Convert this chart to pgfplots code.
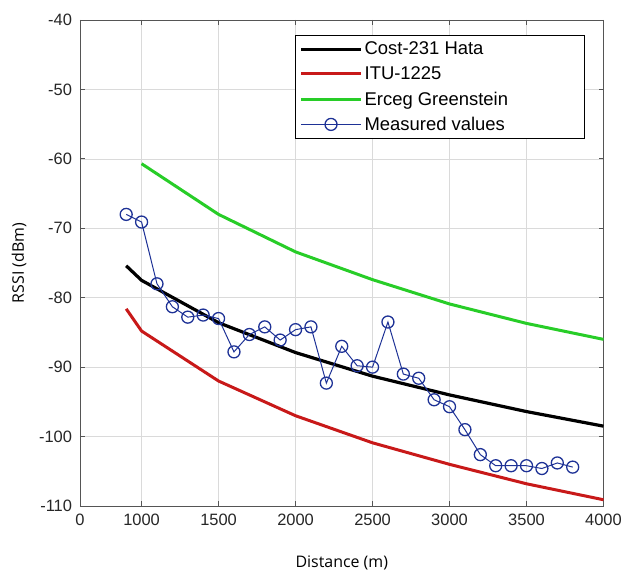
\documentclass[border=0pt]{standalone}
\usepackage{fontspec}
\setmainfont{Liberation Sans}
\newfontfamily\labelfont{Open Sans}
\usepackage{pgfplots}
\pgfplotsset{compat=1.18}
\definecolor{hred}{RGB}{200,25,25}
\definecolor{hgreen}{RGB}{40,205,40}
\definecolor{mblue}{RGB}{30,50,150}
\definecolor{gridc}{RGB}{218,218,218}
\definecolor{axc}{RGB}{85,85,85}
\newcommand{\lgd}[1]{\makebox[214bp][l]{#1}}
\begin{document}
\begin{tikzpicture}
\begin{axis}[
  scale only axis,
  width=523.5bp, height=486bp,
  xmin=600, xmax=4000, ymin=-110, ymax=-40,
  xtick={600,1000,1500,2000,2500,3000,3500,4000},
  xticklabels={0,1000,1500,2000,2500,3000,3500,4000},
  ytick={-110,-100,-90,-80,-70,-60,-50,-40},
  /pgf/number format/assume math mode=true,
  tick label style={font=\fontsize{16.5}{19}\selectfont, text=black!85},
  xticklabel style={yshift=-5bp},
  yticklabel style={xshift=-4.5bp},
  grid=major,
  major grid style={gridc, line width=0.6bp},
  axis line style={axc, line width=0.9bp},
  tick style={axc, line width=0.8bp},
  major tick length=5bp,
  tick align=inside,
  xlabel={\labelfont Distance (m)},
  ylabel={\labelfont RSSI (dBm)},
  label style={font=\fontsize{16}{19}\selectfont},
  xlabel style={at={(axis description cs:0.5,-0.1173)}, anchor=center},
  ylabel style={at={(axis description cs:-0.1165,0.5)}, anchor=center},
  legend style={at={(axis description cs:0.9647,0.969)}, anchor=north east,
    font=\fontsize{18.5}{20}\selectfont, draw=black, line width=0.8bp,
    row sep=6.5bp, inner xsep=4bp, inner ysep=4.5bp, fill=white},
  legend cell align=left,
  legend image code/.code={
    \draw[mark repeat=2,mark phase=2,#1] plot coordinates {(0bp,0bp) (30bp,0bp) (60bp,0bp)};
  },
]
\addplot[black, line width=3.2bp] coordinates {
(900,-75.4) (1000,-77.5) (1500,-83.6) (2000,-87.9) (2500,-91.3) (3000,-94.0) (3500,-96.4) (4000,-98.5)};
\addlegendentry{\lgd{Cost-231 Hata}}
\addplot[hred, line width=3bp] coordinates {
(900,-81.6) (1000,-84.8) (1500,-92.0) (2000,-97.0) (2500,-100.9) (3000,-104.0) (3500,-106.8) (4000,-109.1)};
\addlegendentry{\lgd{ITU-1225}}
\addplot[hgreen, line width=3bp] coordinates {
(1000,-60.7) (1500,-68.0) (2000,-73.4) (2500,-77.4) (3000,-80.9) (3500,-83.7) (4000,-86.0)};
\addlegendentry{\lgd{Erceg Greenstein}}
\addplot[mblue, line width=1bp, mark=o, mark size=6bp, mark options={line width=1.3bp}] coordinates {
(900,-68.0) (1000,-69.1) (1100,-78.0) (1200,-81.3) (1300,-82.8) (1400,-82.5) (1500,-83.0)
(1600,-87.8) (1700,-85.3) (1800,-84.2) (1900,-86.1) (2000,-84.6) (2100,-84.2) (2200,-92.3)
(2300,-87.0) (2400,-89.8) (2500,-90.0) (2600,-83.5) (2700,-91.0) (2800,-91.6) (2900,-94.7)
(3000,-95.7) (3100,-99.0) (3200,-102.6) (3300,-104.2) (3400,-104.2) (3500,-104.2) (3600,-104.6)
(3700,-103.8) (3800,-104.4)};
\addlegendentry{\lgd{Measured values}}
\end{axis}
\pgfresetboundingbox
\path ([shift={(-80bp,-75bp)}]current axis.south west) rectangle ([shift={(23.5bp,20bp)}]current axis.north east);
\end{tikzpicture}
\end{document}
